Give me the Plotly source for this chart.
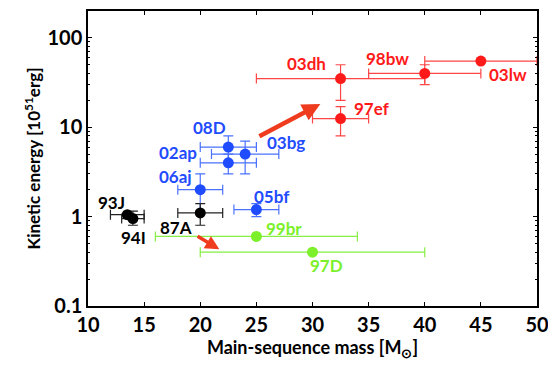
import numpy as np
import plotly.graph_objects as go

# ---- data ----
red_names = ["03dh", "98bw", "03lw", "97ef"]
red_mass = [32.5, 40, 45, 32.5]
red_mass_lo = [25, 35, 40, 30]
red_mass_hi = [40, 45, 50, 35]
red_e = [35, 40, 55, 12.5]
red_e_lo = [20, 30, 55, 8]
red_e_hi = [50, 50, 55, 17]

blue_names = ["08D", "03bg", "02ap", "06aj", "05bf"]
blue_mass = [22.5, 24, 22.5, 20, 25]
blue_mass_lo = [20, 21, 20, 18, 23]
blue_mass_hi = [25, 27, 25, 22, 27]
blue_e = [6, 5, 4, 2, 1.2]
blue_e_lo = [4, 3, 3, 1.1, 1.0]
blue_e_hi = [8, 7, 5, 3, 1.4]

black_names = ["93J", "94I", "87A"]
black_mass = [13.5, 14, 20]
black_mass_lo = [12, 13, 18]
black_mass_hi = [15, 15, 22]
black_e = [1.05, 0.95, 1.1]
black_e_lo = [1.05, 0.8, 0.8]
black_e_hi = [1.05, 1.15, 1.4]

green_names = ["99br", "97D"]
green_mass = [25, 30]
green_mass_lo = [16, 20]
green_mass_hi = [34, 40]
green_e = [0.6, 0.4]
green_e_lo = [0.6, 0.4]
green_e_hi = [0.6, 0.4]

# label offsets (pixels) relative to each point
red_lab_dx = [-34, -37, 27, 31]
red_lab_dy = [15, 15, -13, 10]
blue_lab_dx = [-19, 41, -50, -25, 16]
blue_lab_dy = [20, 12, 10, 13, 13]
black_lab_dx = [-16, 1, -24]
black_lab_dy = [12, -19, -15]
green_lab_dx = [28, 14]
green_lab_dy = [8, -13]

# arrows: (start mass, start E) -> (end mass, end E)
arrow_start_mass = [25.0, 19.5]
arrow_start_e = [7.6, 0.63]
arrow_end_mass = [30.7, 21.7]
arrow_end_e = [18.2, 0.43]

x_ticks = [10, 15, 20, 25, 30, 35, 40, 45, 50]
y_ticks = [0.1, 1, 10, 100]
y_ticktext = ["0.1", "1", "10", "100"]

FONT = "Lato"

groups = [
    (blue_names, blue_mass, blue_mass_lo, blue_mass_hi, blue_e, blue_e_lo, blue_e_hi,
     "#1f4cff", "#4a72ff", blue_lab_dx, blue_lab_dy),
    (black_names, black_mass, black_mass_lo, black_mass_hi, black_e, black_e_lo, black_e_hi,
     "#000000", "#222222", black_lab_dx, black_lab_dy),
    (green_names, green_mass, green_mass_lo, green_mass_hi, green_e, green_e_lo, green_e_hi,
     "#7cf02a", "#86ee44", green_lab_dx, green_lab_dy),
    (red_names, red_mass, red_mass_lo, red_mass_hi, red_e, red_e_lo, red_e_hi,
     "#ff1a1a", "#ff4545", red_lab_dx, red_lab_dy),
]

fig = go.Figure()
annotations = []
for names, m, mlo, mhi, e, elo, ehi, col, ecol, ldx, ldy in groups:
    m = np.array(m, float); e = np.array(e, float)
    fig.add_trace(go.Scatter(
        x=m, y=e, mode="markers",
        marker=dict(size=11, color=col),
        error_x=dict(type="data", symmetric=False,
                     array=np.array(mhi) - m, arrayminus=m - np.array(mlo),
                     color=ecol, thickness=1.2, width=5),
        error_y=dict(type="data", symmetric=False,
                     array=np.array(ehi) - e, arrayminus=e - np.array(elo),
                     color=ecol, thickness=1.2, width=5),
        showlegend=False, cliponaxis=True,
    ))
    for n, xx, yy, dx, dy in zip(names, m, e, ldx, ldy):
        annotations.append(dict(
            x=xx, y=np.log10(yy), xref="x", yref="y", text=n, showarrow=False,
            xshift=dx, yshift=dy,
            font=dict(family=FONT, size=17, color=col, weight="bold")))

for sm, se, em, ee, w in zip(arrow_start_mass, arrow_start_e, arrow_end_mass, arrow_end_e, [4.5, 3.5]):
    annotations.append(dict(
        x=em, y=np.log10(ee), xref="x", yref="y",
        ax=sm, ay=np.log10(se), axref="x", ayref="y",
        showarrow=True, arrowhead=2, arrowsize=0.8, arrowwidth=w,
        arrowcolor="#f03c1e", text=" "))

axis_common = dict(showline=True, linecolor="black", linewidth=1.5, mirror="allticks",
                   ticks="inside", tickcolor="black", ticklen=4, showgrid=False, zeroline=False,
                   tickfont=dict(family=FONT, size=20, color="black", weight="bold"))

# page body adds an 8px offset, so the figure is 8px smaller on each axis
fig.update_layout(
    width=548, height=359,
    margin=dict(l=80, r=19, t=1, b=61),
    plot_bgcolor="white", paper_bgcolor="white",
    annotations=annotations,
    xaxis=dict(range=[10, 50], tickvals=x_ticks,
               title=dict(text="Main-sequence mass [M<sub>⊙</sub>]", standoff=4,
                          font=dict(family=FONT, size=18, color="black", weight="bold")),
               **axis_common),
    yaxis=dict(type="log", range=[-1, 2.3], tickvals=y_ticks, ticktext=y_ticktext,
               minor=dict(ticks="inside", ticklen=2.5, tickcolor="black", dtick="D1", showgrid=False),
               title=dict(text="Kinetic energy [10<sup>51</sup>erg]", standoff=2,
                          font=dict(family=FONT, size=17, color="black", weight="bold")),
               **axis_common),
)

fig.write_html("out.html")
